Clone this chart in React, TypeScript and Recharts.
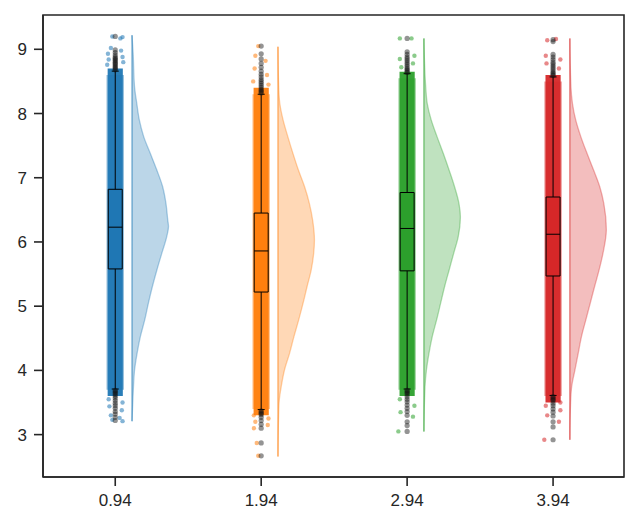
import {
  Area,
  ComposedChart,
  ReferenceArea,
  ReferenceLine,
  Scatter,
  XAxis,
  YAxis,
} from "recharts";

const POSITIONS = [0.94, 1.94, 2.94, 3.94];
const X_TICKS = [0.94, 1.94, 2.94, 3.94];
const Y_TICKS = [3, 4, 5, 6, 7, 8, 9];
const COLORS = ["#1f77b4", "#ff7f0e", "#2ca02c", "#d62728"];

// box plot stats per group
const Q1 = [5.58, 5.22, 5.55, 5.47];
const MEDIAN = [6.23, 5.86, 6.21, 6.12];
const Q3 = [6.82, 6.45, 6.77, 6.7];
const WHISKER_LOW = [3.71, 3.39, 3.71, 3.61];
const WHISKER_HIGH = [8.66, 8.3, 8.62, 8.57];

// dense part of the jittered strip
const STRIP_LOW = [3.6, 3.3, 3.6, 3.5];
const STRIP_HIGH = [8.7, 8.4, 8.65, 8.6];

// half violin: value -> relative density
const VIOLIN_Y = [
  [9.22, 8.94, 8.41, 8.16, 7.9, 7.64, 7.38, 7.12, 6.86, 6.6, 6.34, 6.24, 6.08, 5.83, 5.56, 5.31, 5.05, 4.79, 4.53, 4.27, 4.01, 3.75, 3.5, 3.21],
  [9.04, 8.41, 8.16, 7.9, 7.64, 7.38, 7.12, 6.86, 6.6, 6.34, 6.03, 5.83, 5.56, 5.31, 5.05, 4.79, 4.53, 4.27, 4.01, 3.75, 3.5, 3.24, 2.66],
  [9.17, 8.41, 8.16, 7.9, 7.64, 7.38, 7.12, 6.86, 6.6, 6.39, 6.08, 5.83, 5.56, 5.31, 5.05, 4.79, 4.53, 4.27, 4.01, 3.75, 3.05],
  [9.17, 8.41, 8.16, 7.9, 7.64, 7.38, 7.12, 6.86, 6.6, 6.19, 5.83, 5.56, 5.31, 5.05, 4.79, 4.53, 4.27, 4.01, 3.75, 3.5, 2.92],
];
const VIOLIN_DENSITY = [
  [0, 0.03, 0.07, 0.13, 0.2, 0.32, 0.5, 0.68, 0.84, 0.93, 0.98, 1, 0.95, 0.82, 0.68, 0.56, 0.45, 0.35, 0.23, 0.14, 0.07, 0.04, 0.02, 0],
  [0, 0.02, 0.05, 0.14, 0.27, 0.41, 0.56, 0.73, 0.86, 0.95, 1, 0.98, 0.91, 0.8, 0.69, 0.57, 0.44, 0.32, 0.18, 0.09, 0.03, 0.015, 0],
  [0, 0.05, 0.09, 0.2, 0.36, 0.53, 0.69, 0.84, 0.96, 1, 0.94, 0.82, 0.69, 0.57, 0.46, 0.35, 0.23, 0.14, 0.07, 0.03, 0],
  [0, 0.03, 0.07, 0.16, 0.3, 0.47, 0.65, 0.82, 0.93, 1, 0.91, 0.8, 0.68, 0.56, 0.44, 0.32, 0.23, 0.14, 0.05, 0.02, 0],
];

// outliers beyond the whiskers (drawn at the box centre)
const FLIERS = [
  [8.68, 8.7, 8.72, 8.74, 8.76, 8.78, 8.8, 8.82, 8.84, 8.86, 8.88, 8.91, 8.95, 8.99, 9.2,
    3.69, 3.67, 3.65, 3.63, 3.6, 3.57, 3.53, 3.49, 3.45, 3.41, 3.36, 3.32, 3.27, 3.22],
  [8.32, 8.34, 8.36, 8.38, 8.41, 8.44, 8.47, 8.5, 8.53, 8.57, 8.61, 8.66, 8.72, 8.78, 8.85, 8.93, 9.05,
    3.37, 3.35, 3.33, 3.31, 3.27, 3.22, 3.16, 3.1, 2.87, 2.67],
  [8.64, 8.66, 8.68, 8.7, 8.73, 8.76, 8.79, 8.82, 8.85, 8.88, 8.92, 8.96, 9.17,
    3.69, 3.67, 3.65, 3.63, 3.59, 3.55, 3.51, 3.46, 3.41, 3.36, 3.3, 3.2, 3.14, 3.05],
  [8.59, 8.61, 8.63, 8.65, 8.68, 8.71, 8.74, 8.77, 8.8, 8.84, 8.88, 8.92, 9.12, 9.15,
    3.59, 3.57, 3.55, 3.53, 3.49, 3.45, 3.4, 3.35, 3.29, 3.2, 3.12, 2.92],
];

// sparse jittered points in the strip tails: [offset, value]
const TAILS = [
  [[0.05, 9.19], [-0.02, 9.2], [0.035, 9.17], [-0.03, 9.02], [0.04, 8.98], [-0.05, 8.93], [0.05, 8.88], [-0.045, 8.84], [0.055, 8.8], [-0.055, 8.76],
    [-0.045, 3.55], [0.05, 3.5], [-0.04, 3.44], [0.045, 3.38], [-0.03, 3.3], [0.03, 3.26], [0.05, 3.21], [-0.02, 3.23]],
  [[0.05, 8.45], [-0.055, 8.5], [0.04, 8.6], [-0.045, 8.7], [0.03, 8.82], [-0.04, 8.9], [-0.02, 9.05],
    [-0.05, 3.3], [0.05, 3.25], [-0.04, 3.2], [0.045, 3.15], [-0.05, 3.1], [-0.03, 2.87], [-0.02, 2.67]],
  [[-0.05, 9.17], [0.03, 9.17], [0.05, 8.9], [-0.05, 8.85], [0.04, 8.78], [-0.04, 8.72],
    [-0.05, 3.55], [0.05, 3.45], [-0.045, 3.35], [0.04, 3.28], [-0.06, 3.05]],
  [[-0.04, 9.14], [0.02, 9.16], [-0.05, 8.9], [0.05, 8.84], [-0.045, 8.78], [0.04, 8.7],
    [0.05, 3.5], [-0.05, 3.45], [0.05, 3.38], [-0.04, 3.3], [0.04, 3.2], [-0.06, 2.92]],
];

const X_DOMAIN = [0.445, 4.426];
const Y_DOMAIN = [2.34, 9.534];

const INK = "#262626";
const FONT = "'Liberation Sans', Arial, sans-serif";
const BOX_HALF = 0.048;
const CAP_HALF = 0.024;
const STRIP_HALF = 0.052;
const STRIP_FUZZ = 0.06;
const VIOLIN_OFFSET = 0.115;
const VIOLIN_SCALE = 0.25;

const tickStyle = { fill: INK, fontSize: 17, fontFamily: FONT };
const axisLine = { stroke: INK, strokeWidth: 1.6 };

export default function App() {
  return (
    <div style={{ position: "absolute", left: 0, top: 0, background: "#fff" }}>
      <ComposedChart
        width={638}
        height={527}
        layout="vertical"
        margin={{ top: 15, right: 14, bottom: 0, left: 0 }}
        style={{ fontFamily: FONT }}
      >
        <XAxis
          type="number"
          dataKey="x"
          domain={X_DOMAIN}
          allowDataOverflow
          ticks={X_TICKS}
          interval={0}
          height={50}
          tickSize={9}
          tickMargin={8}
          fontSize={17}
          tick={tickStyle}
          axisLine={axisLine}
          tickLine={axisLine}
        />
        <YAxis
          type="number"
          dataKey="y"
          domain={Y_DOMAIN}
          reversed
          allowDataOverflow
          ticks={Y_TICKS}
          interval={0}
          width={43}
          tickSize={9}
          tickMargin={7}
          fontSize={17}
          tick={tickStyle}
          axisLine={axisLine}
          tickLine={axisLine}
        />

        {/* soft edge of the jittered strip */}
        {POSITIONS.map((c, i) => (
          <ReferenceArea
            key={`fuzz${i}`}
            x1={c - STRIP_FUZZ}
            x2={c + STRIP_FUZZ}
            y1={STRIP_LOW[i] + 0.1}
            y2={STRIP_HIGH[i] - 0.1}
            fill={COLORS[i]}
            fillOpacity={0.45}
            stroke="none"
            zIndex={105}
          />
        ))}

        {POSITIONS.map((c, i) => (
          <ReferenceArea
            key={`strip${i}`}
            x1={c - STRIP_HALF}
            x2={c + STRIP_HALF}
            y1={STRIP_LOW[i]}
            y2={STRIP_HIGH[i]}
            fill={COLORS[i]}
            fillOpacity={0.95}
            stroke="none"
            zIndex={110}
          />
        ))}

        {POSITIONS.map((c, i) => (
          <Scatter
            key={`tail${i}`}
            data={TAILS[i].map(([dx, y]) => ({ x: c + dx, y }))}
            isAnimationActive={false}
            zIndex={120}
            shape={(p: any) => (
              <circle cx={p.cx} cy={p.cy} r={2.2} fill={COLORS[i]} fillOpacity={0.55} />
            )}
          />
        ))}

        {POSITIONS.map((c, i) => (
          <Area
            key={`violin${i}`}
            data={VIOLIN_Y[i].map((y, k) => ({
              y,
              lo: c + VIOLIN_OFFSET,
              hi: c + VIOLIN_OFFSET + VIOLIN_DENSITY[i][k] * VIOLIN_SCALE,
            }))}
            dataKey={(d: any) => [d.lo, d.hi]}
            type="monotone"
            fill={COLORS[i]}
            fillOpacity={0.3}
            stroke={COLORS[i]}
            strokeOpacity={0.35}
            strokeWidth={1.3}
            dot={false}
            activeDot={false}
            isAnimationActive={false}
            zIndex={130}
          />
        ))}

        {POSITIONS.map((c, i) => (
          <ReferenceLine
            key={`vbase${i}`}
            segment={[
              { x: c + VIOLIN_OFFSET, y: VIOLIN_Y[i][0] },
              { x: c + VIOLIN_OFFSET, y: VIOLIN_Y[i][VIOLIN_Y[i].length - 1] },
            ]}
            stroke={COLORS[i]}
            strokeOpacity={0.35}
            strokeWidth={1.3}
            zIndex={131}
          />
        ))}

        {POSITIONS.map((c, i) => (
          <ReferenceArea
            key={`box${i}`}
            x1={c - BOX_HALF}
            x2={c + BOX_HALF}
            y1={Q1[i]}
            y2={Q3[i]}
            fill={COLORS[i]}
            fillOpacity={1}
            stroke="#000"
            strokeWidth={1}
            zIndex={140}
          />
        ))}

        {POSITIONS.flatMap((c, i) => [
          <ReferenceLine
            key={`wl${i}`}
            segment={[{ x: c, y: WHISKER_LOW[i] }, { x: c, y: Q1[i] }]}
            stroke="#000"
            strokeWidth={1}
            zIndex={150}
          />,
          <ReferenceLine
            key={`wh${i}`}
            segment={[{ x: c, y: Q3[i] }, { x: c, y: WHISKER_HIGH[i] }]}
            stroke="#000"
            strokeWidth={1}
            zIndex={150}
          />,
          <ReferenceLine
            key={`cl${i}`}
            segment={[{ x: c - CAP_HALF, y: WHISKER_LOW[i] }, { x: c + CAP_HALF, y: WHISKER_LOW[i] }]}
            stroke="#000"
            strokeWidth={1}
            zIndex={150}
          />,
          <ReferenceLine
            key={`ch${i}`}
            segment={[{ x: c - CAP_HALF, y: WHISKER_HIGH[i] }, { x: c + CAP_HALF, y: WHISKER_HIGH[i] }]}
            stroke="#000"
            strokeWidth={1}
            zIndex={150}
          />,
          <ReferenceLine
            key={`md${i}`}
            segment={[{ x: c - BOX_HALF, y: MEDIAN[i] }, { x: c + BOX_HALF, y: MEDIAN[i] }]}
            stroke="#000"
            strokeWidth={1}
            zIndex={151}
          />,
        ])}

        {POSITIONS.map((c, i) => (
          <Scatter
            key={`flier${i}`}
            data={FLIERS[i].map((y) => ({ x: c, y }))}
            isAnimationActive={false}
            zIndex={160}
            shape={(p: any) => (
              <circle cx={p.cx} cy={p.cy} r={2.6} fill="#111" fillOpacity={0.45} />
            )}
          />
        ))}

        {/* plot frame (top and right spines) */}
        <ReferenceArea
          x1={X_DOMAIN[0]}
          x2={X_DOMAIN[1]}
          y1={Y_DOMAIN[0]}
          y2={Y_DOMAIN[1]}
          fill="none"
          stroke={INK}
          strokeWidth={1.6}
          ifOverflow="visible"
          zIndex={170}
        />
      </ComposedChart>
    </div>
  );
}
